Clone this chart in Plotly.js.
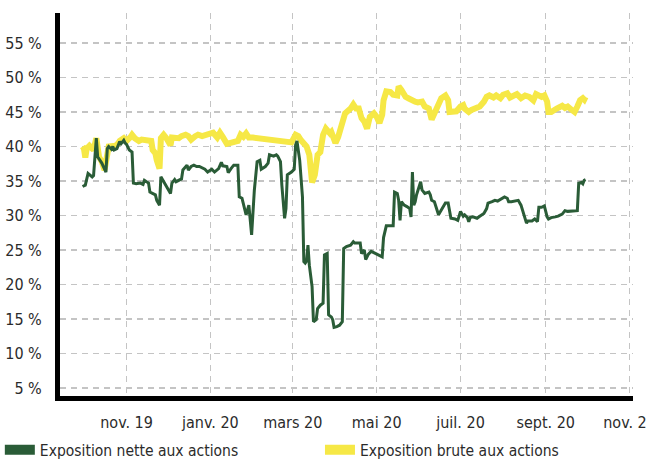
<!DOCTYPE html>
<html>
<head>
<meta charset="utf-8">
<script src="https://cdn.plot.ly/plotly-3.0.1.min.js"></script>
<style>html,body{margin:0;padding:0;background:#fff;}#chart{width:646px;height:461px;}</style>
</head>
<body>
<div id="chart"></div>
<script>
// Exposition nette aux actions (net equity exposure, %)
const netDates = ['2019-09-30','2019-10-02','2019-10-04','2019-10-05','2019-10-07','2019-10-08','2019-10-10','2019-10-11','2019-10-13','2019-10-14','2019-10-17','2019-10-18','2019-10-19','2019-10-21','2019-10-22','2019-10-23','2019-10-25','2019-10-26','2019-10-27','2019-10-28','2019-10-30','2019-10-31','2019-11-01','2019-11-03','2019-11-05','2019-11-06','2019-11-08','2019-11-11','2019-11-13','2019-11-14','2019-11-15','2019-11-17','2019-11-18','2019-11-20','2019-11-22','2019-11-23','2019-11-25','2019-11-26','2019-11-28','2019-11-30','2019-12-03','2019-12-04','2019-12-06','2019-12-07','2019-12-09','2019-12-11','2019-12-12','2019-12-15','2019-12-16','2019-12-18','2019-12-20','2019-12-22','2019-12-24','2019-12-28','2019-12-30','2020-01-02','2020-01-04','2020-01-07','2020-01-09','2020-01-10','2020-01-13','2020-01-14','2020-01-16','2020-01-18','2020-01-21','2020-01-22','2020-01-24','2020-01-26','2020-01-27','2020-01-29','2020-01-30','2020-01-31','2020-02-02','2020-02-04','2020-02-06','2020-02-07','2020-02-10','2020-02-12','2020-02-13','2020-02-16','2020-02-18','2020-02-19','2020-02-21','2020-02-22','2020-02-24','2020-02-25','2020-02-26','2020-02-29','2020-03-02','2020-03-03','2020-03-04','2020-03-05','2020-03-06','2020-03-08','2020-03-09','2020-03-10','2020-03-11','2020-03-12','2020-03-13','2020-03-15','2020-03-16','2020-03-18','2020-03-19','2020-03-21','2020-03-23','2020-03-24','2020-03-26','2020-03-27','2020-03-29','2020-03-30','2020-03-31','2020-04-02','2020-04-04','2020-04-06','2020-04-07','2020-04-09','2020-04-12','2020-04-14','2020-04-15','2020-04-19','2020-04-20','2020-04-22','2020-04-23','2020-04-25','2020-04-27','2020-04-30','2020-05-02','2020-05-05','2020-05-06','2020-05-08','2020-05-10','2020-05-13','2020-05-14','2020-05-16','2020-05-17','2020-05-18','2020-05-19','2020-05-21','2020-05-23','2020-05-25','2020-05-26','2020-05-27','2020-05-28','2020-05-29','2020-05-30','2020-06-02','2020-06-03','2020-06-05','2020-06-08','2020-06-09','2020-06-10','2020-06-12','2020-06-15','2020-06-17','2020-06-20','2020-06-22','2020-06-24','2020-06-27','2020-06-29','2020-07-01','2020-07-03','2020-07-04','2020-07-06','2020-07-07','2020-07-08','2020-07-10','2020-07-13','2020-07-15','2020-07-18','2020-07-20','2020-07-21','2020-07-24','2020-07-26','2020-07-28','2020-07-31','2020-08-02','2020-08-04','2020-08-05','2020-08-07','2020-08-10','2020-08-12','2020-08-14','2020-08-16','2020-08-18','2020-08-19','2020-08-22','2020-08-24','2020-08-26','2020-08-27','2020-08-29','2020-08-31','2020-09-02','2020-09-03','2020-09-05','2020-09-08','2020-09-10','2020-09-13','2020-09-15','2020-09-17','2020-09-21','2020-09-24','2020-09-25','2020-09-27','2020-09-28','2020-09-29','2020-09-30'];
const netValues = [34.2,34.4,36.1,35.9,35.6,35.8,41.2,38.5,38.0,37.6,36.3,39.7,40.0,39.6,40.0,39.5,39.7,40.2,40.7,40.4,40.9,40.5,40.3,39.5,39.2,34.7,34.6,34.7,34.5,35.1,35.0,34.7,33.4,33.2,33.0,32.2,31.5,35.6,34.9,34.2,33.2,34.7,35.2,34.9,35.1,35.3,36.6,37.3,36.6,37.1,37.3,37.1,37.1,36.7,36.3,36.7,36.3,36.8,37.7,37.2,37.1,36.2,36.8,37.3,37.3,32.7,32.5,31.0,30.1,31.5,28.9,27.2,33.7,37.8,38.0,36.7,37.1,37.6,38.8,38.6,38.8,38.6,37.8,34.4,29.6,31.0,35.9,36.3,36.7,40.2,40.8,39.5,38.0,32.7,23.3,23.1,23.4,25.7,22.8,19.7,14.6,14.9,16.5,17.0,17.3,24.3,24.5,15.6,15.3,14.9,13.8,13.9,14.1,14.6,25.2,25.5,25.7,26.2,26.0,26.0,24.5,25.0,23.6,24.4,24.8,24.5,24.3,24.0,26.8,28.5,28.5,28.5,33.4,33.2,32.2,29.3,32.0,31.5,31.3,31.0,29.8,36.3,31.5,32.0,33.0,34.9,33.7,33.2,33.4,33.0,32.2,32.0,30.1,30.8,31.8,31.8,29.6,29.5,29.3,30.6,29.9,30.1,29.7,29.1,29.7,29.8,29.6,29.9,30.3,31.0,31.8,32.0,32.2,32.1,32.5,32.7,32.5,32.0,32.0,32.1,32.2,31.5,30.3,28.9,29.2,29.2,29.5,29.1,31.2,31.2,31.4,29.8,29.5,29.7,29.8,29.9,30.2,30.7,30.6,30.7,30.7,34.7,34.8,34.6,35.1,35.2];

// Exposition brute aux actions (gross equity exposure, %)
const grossDates = ['2019-09-30','2019-10-01','2019-10-02','2019-10-03','2019-10-05','2019-10-07','2019-10-08','2019-10-10','2019-10-12','2019-10-14','2019-10-16','2019-10-19','2019-10-21','2019-10-24','2019-10-26','2019-10-27','2019-10-30','2019-11-01','2019-11-04','2019-11-05','2019-11-07','2019-11-10','2019-11-12','2019-11-14','2019-11-17','2019-11-19','2019-11-20','2019-11-22','2019-11-23','2019-11-24','2019-11-25','2019-11-26','2019-11-28','2019-11-30','2019-12-03','2019-12-04','2019-12-06','2019-12-09','2019-12-11','2019-12-14','2019-12-16','2019-12-18','2019-12-21','2019-12-23','2019-12-26','2019-12-29','2020-01-01','2020-01-03','2020-01-06','2020-01-08','2020-01-10','2020-01-13','2020-01-15','2020-01-18','2020-01-21','2020-01-23','2020-01-25','2020-01-27','2020-01-29','2020-02-01','2020-02-29','2020-03-03','2020-03-05','2020-03-07','2020-03-09','2020-03-11','2020-03-13','2020-03-15','2020-03-17','2020-03-19','2020-03-21','2020-03-23','2020-03-25','2020-03-28','2020-03-29','2020-04-01','2020-04-03','2020-04-06','2020-04-08','2020-04-12','2020-04-14','2020-04-16','2020-04-18','2020-04-20','2020-04-22','2020-04-24','2020-04-26','2020-04-29','2020-05-01','2020-05-03','2020-05-05','2020-05-06','2020-05-08','2020-05-11','2020-05-13','2020-05-16','2020-05-17','2020-05-19','2020-05-22','2020-05-24','2020-05-26','2020-05-29','2020-05-31','2020-06-03','2020-06-05','2020-06-08','2020-06-10','2020-06-12','2020-06-15','2020-06-17','2020-06-20','2020-06-22','2020-06-23','2020-06-26','2020-06-28','2020-07-01','2020-07-03','2020-07-04','2020-07-07','2020-07-09','2020-07-13','2020-07-15','2020-07-18','2020-07-20','2020-07-22','2020-07-25','2020-07-27','2020-07-30','2020-08-01','2020-08-04','2020-08-06','2020-08-08','2020-08-11','2020-08-14','2020-08-17','2020-08-20','2020-08-23','2020-08-25','2020-08-29','2020-08-31','2020-09-02','2020-09-03','2020-09-05','2020-09-09','2020-09-13','2020-09-15','2020-09-17','2020-09-20','2020-09-22','2020-09-24','2020-09-26','2020-09-28','2020-09-29','2020-09-30'];
const grossValues = [40.0,39.7,38.4,39.7,40.1,39.7,39.5,41.2,38.5,37.8,36.6,40.0,40.0,40.1,40.5,40.8,41.2,40.8,41.4,41.7,41.2,40.8,41.0,40.9,40.8,40.8,39.5,39.0,38.0,37.1,36.8,41.2,41.7,41.2,40.2,41.3,41.2,41.2,41.5,41.7,41.5,41.0,41.5,41.7,41.5,41.7,41.8,42.0,41.3,42.0,41.4,40.4,40.5,40.7,40.8,41.7,41.4,41.9,41.3,41.3,40.6,41.7,41.5,40.9,40.5,40.0,38.8,34.8,35.9,38.8,39.2,41.7,42.6,41.9,42.1,40.5,41.4,43.4,44.8,45.5,46.1,45.5,45.5,44.1,43.6,42.6,44.3,44.8,44.3,43.4,44.6,46.7,48.0,47.9,47.5,47.4,48.7,48.2,47.2,47.0,46.7,46.5,46.4,46.5,45.8,45.5,43.9,44.8,46.5,47.0,47.4,46.7,45.0,45.0,45.1,45.8,46.0,45.5,45.0,45.3,45.5,45.8,46.5,47.2,47.4,47.1,47.4,47.0,47.5,47.7,47.1,47.3,47.6,47.0,47.4,47.2,46.7,47.6,47.2,47.4,46.5,45.0,45.0,45.5,45.9,45.6,45.8,45.3,45.0,45.8,46.7,47.0,46.8,47.2];

const seriesNames = ['Exposition nette aux actions', 'Exposition brute aux actions'];
const tickDates = ['2019-11-01','2020-01-01','2020-03-01','2020-05-01','2020-07-01','2020-09-01','2020-11-01'];
const tickLabels = ['nov. 19','janv. 20','mars 20','mai 20','juil. 20','sept. 20','nov. 20'];

const GREEN = '#2a5c37';
const YELLOW = '#f6e846';
const FONT = '"Liberation Sans Narrow", "DejaVu Sans Condensed", "Arial Narrow", sans-serif';
const TXT = '#2b2b2b';

const traces = [
  {x: grossDates, y: grossValues, type: 'scatter', mode: 'lines', name: seriesNames[1],
   line: {color: YELLOW, width: 6}, showlegend: false},
  {x: netDates, y: netValues, type: 'scatter', mode: 'lines', name: seriesNames[0],
   line: {color: GREEN, width: 3}, showlegend: false},
  {x: [null], y: [null], type: 'scatter', mode: 'lines', name: seriesNames[0],
   line: {color: GREEN, width: 10}, showlegend: true, legend: 'legend'},
  {x: [null], y: [null], type: 'scatter', mode: 'lines', name: seriesNames[1],
   line: {color: YELLOW, width: 10}, showlegend: true, legend: 'legend2'}
];

const legendCommon = {orientation: 'h', xanchor: 'left', yanchor: 'top', y: -0.097,
  font: {family: FONT, size: 15.5, color: TXT}, bgcolor: 'rgba(0,0,0,0)', borderwidth: 0};

const layout = {
  width: 646, height: 461,
  margin: {l: 60, r: 13, t: 13, b: 65, pad: 0, autoexpand: false},
  paper_bgcolor: '#ffffff', plot_bgcolor: '#ffffff',
  font: {family: FONT, size: 16, color: TXT},
  showlegend: true,
  legend: Object.assign({}, legendCommon, {x: -0.105}),
  legend2: Object.assign({}, legendCommon, {x: 0.4537}),
  xaxis: {
    type: 'date', range: ['2019-09-13 14:00', '2020-11-03 12:00'],
    tickmode: 'array', tickvals: tickDates, ticktext: tickLabels,
    showgrid: true, gridcolor: '#c4c4c4', gridwidth: 1.3, griddash: '6px,5px',
    showline: true, linecolor: '#000000', linewidth: 5,
    ticks: '', zeroline: false, ticklabelstandoff: 8, ticklabeloverflow: 'allow',
    tickfont: {family: FONT, size: 16, color: TXT}, fixedrange: true
  },
  yaxis: {
    range: [3.84, 59.35], tickmode: 'linear', tick0: 0, dtick: 5, ticksuffix: ' %',
    showgrid: true, gridcolor: '#c4c4c4', gridwidth: 1.3, griddash: '6px,5px',
    showline: true, linecolor: '#000000', linewidth: 5,
    ticks: '', zeroline: false, ticklabelstandoff: 10,
    tickfont: {family: FONT, size: 16, color: TXT}, fixedrange: true
  }
};

Plotly.newPlot('chart', traces, layout, {displayModeBar: false, staticPlot: true});
</script>
</body>
</html>
